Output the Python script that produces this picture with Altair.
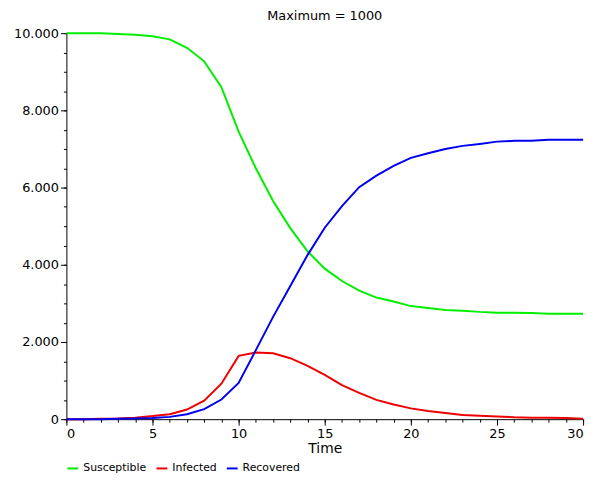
import pandas as pd
import altair as alt

time = list(range(31))
susceptible = [10000, 10000, 10000, 9980, 9960, 9920, 9840, 9620, 9270, 8600,
               7450, 6500, 5650, 4950, 4350, 3900, 3580, 3330, 3150, 3050,
               2930, 2880, 2830, 2810, 2780, 2760, 2760, 2750, 2730, 2730, 2730]
infected = [0, 0, 10, 20, 40, 80, 130, 250, 480, 920,
            1640, 1730, 1710, 1580, 1380, 1150, 880, 680, 500, 380,
            280, 210, 160, 110, 90, 70, 50, 40, 40, 30, 10]
recovered = [0, 0, 0, 10, 20, 30, 60, 130, 260, 510,
             940, 1790, 2650, 3450, 4250, 4960, 5520, 6010, 6310, 6560,
             6770, 6890, 7000, 7080, 7130, 7190, 7210, 7210, 7240, 7240, 7240]

series = ["Susceptible", "Infected", "Recovered"]
colors = ["#00ee00", "#ee0000", "#0000ee"]

rows = []
for name, vals in zip(series, [susceptible, infected, recovered]):
    for t, v in zip(time, vals):
        rows.append({"Time": t, "value": v, "series": name})
df = pd.DataFrame(rows)

font = "DejaVu Sans"
xs = alt.Scale(domain=[0, 30], nice=False)
ys = alt.Scale(domain=[0, 10000], nice=False)

lines = alt.Chart(df).mark_line(strokeWidth=2).encode(
    x=alt.X("Time:Q", scale=xs, title="Time",
            axis=alt.Axis(values=[0, 5, 10, 15, 20, 25, 30], grid=False,
                          domainColor="black", tickColor="black", labelColor="black",
                          tickSize=6, labelFontSize=13, titleFontSize=14, titlePadding=2,
                          titleFontWeight="normal", labelFont=font, titleFont=font)),
    y=alt.Y("value:Q", scale=ys, title=None,
            axis=alt.Axis(values=[0, 2000, 4000, 6000, 8000, 10000], grid=False,
                          domainColor="black", tickColor="black", labelColor="black",
                          tickSize=6, labelFontSize=13, labelFont=font,
                          labelExpr="replace(format(datum.value, ','), ',', '.')")),
    color=alt.Color("series:N", sort=series,
                    scale=alt.Scale(domain=series, range=colors),
                    legend=alt.Legend(title=None, orient="bottom", symbolType="stroke",
                                      symbolStrokeWidth=2, symbolSize=120, offset=6,
                                      labelFontSize=11, labelFont=font, columnPadding=6)),
)

minor = alt.Chart(pd.DataFrame({"Time": [0], "value": [0]})).mark_point(opacity=0).encode(
    x=alt.X("Time:Q", scale=xs, title=None,
            axis=alt.Axis(orient="bottom", values=list(range(31)), labels=False,
                          domain=False, grid=False, tickSize=3, tickColor="black")),
    y=alt.Y("value:Q", scale=ys, title=None,
            axis=alt.Axis(orient="left", values=list(range(0, 10001, 500)), labels=False,
                          domain=False, grid=False, tickSize=3, tickColor="black")),
)

chart = alt.layer(lines, minor).resolve_axis(x="independent", y="independent").properties(
    width=522, height=390,
    title=alt.Title("Maximum = 1000", fontSize=13, fontWeight="normal", font=font, offset=4),
    padding={"left": 5, "right": 5, "top": 0, "bottom": 2},
).configure_view(stroke=None)

chart.save("out.html", embed_options={"renderer": "svg", "actions": False})
